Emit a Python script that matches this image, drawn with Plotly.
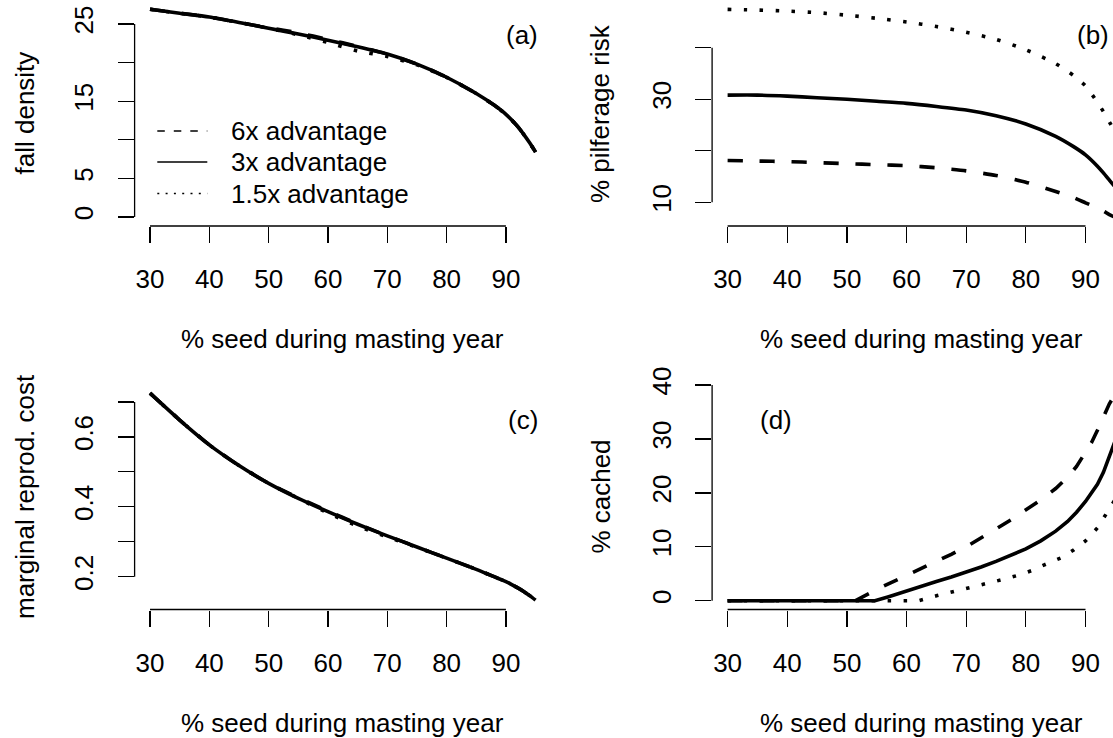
import plotly.graph_objects as go

W, H = 1113, 738
FONT = "Liberation Sans, Arial, Helvetica, sans-serif"
FS = 26

# ---- data -------------------------------------------------------------
seed_pct = [30, 35, 40, 45, 50, 55, 60, 65, 70, 75, 80, 85, 88, 90, 92, 93, 94, 95]

# (a) fall density
fall_6x = [26.9, 26.4, 25.9, 25.2, 24.5, 23.85, 23.0, 22.1, 21.1, 19.8, 18.1, 16.0, 14.5, 13.3, 11.7, 10.7, 9.6, 8.4]
fall_3x = [26.9, 26.4, 25.9, 25.2, 24.45, 23.7, 22.9, 22.05, 21.1, 19.8, 18.1, 16.0, 14.5, 13.3, 11.7, 10.7, 9.6, 8.4]
fall_15x = [26.9, 26.4, 25.9, 25.2, 24.45, 23.6, 22.6, 21.5, 20.8, 19.7, 18.1, 16.0, 14.5, 13.3, 11.7, 10.7, 9.6, 8.4]

# (b) % pilferage risk
pilf_6x = [18.1, 18.0, 17.9, 17.7, 17.5, 17.3, 17.1, 16.7, 16.1, 15.2, 13.9, 12.1, 10.9, 9.9, 8.9, 8.3, 7.6, 7.07]
pilf_3x = [30.8, 30.8, 30.6, 30.3, 30.0, 29.6, 29.2, 28.6, 27.9, 26.8, 25.2, 22.8, 20.8, 19.2, 17.0, 15.7, 14.3, 12.9]
pilf_15x = [47.44, 47.3, 47.1, 46.8, 46.3, 45.7, 45.0, 44.1, 43.0, 41.6, 39.6, 36.9, 34.6, 32.6, 29.4, 27.6, 25.6, 23.5]

# (c) marginal reproductive cost
cost_6x = [0.725, 0.648, 0.577, 0.518, 0.467, 0.426, 0.388, 0.351, 0.317, 0.285, 0.253, 0.221, 0.200, 0.186, 0.168, 0.158, 0.146, 0.133]
cost_3x = [0.725, 0.648, 0.577, 0.518, 0.467, 0.424, 0.386, 0.350, 0.317, 0.285, 0.253, 0.221, 0.200, 0.186, 0.168, 0.158, 0.146, 0.133]
cost_15x = [0.725, 0.648, 0.577, 0.518, 0.467, 0.424, 0.382, 0.345, 0.314, 0.284, 0.253, 0.221, 0.200, 0.186, 0.168, 0.158, 0.146, 0.133]

# (d) % cached (each series has its own break point)
cached_x_6x = [30, 51.4, 55, 57.5, 60, 62.5, 65, 67.5, 70, 72.5, 75, 77.5, 80, 82.5, 85, 87, 88.5, 90, 91, 92, 93, 94, 95]
cached_6x = [0, 0, 2.1, 3.4, 4.6, 5.9, 7.2, 8.6, 10.0, 11.6, 13.3, 15.0, 16.8, 18.7, 20.8, 22.9, 24.9, 27.4, 29.3, 31.6, 34.2, 36.5, 38.3]
cached_x_3x = [30, 54.7, 57, 60, 62.5, 65, 67.5, 70, 72.5, 75, 77.5, 80, 82.5, 85, 87, 88.5, 90, 91, 92, 93, 94, 95]
cached_3x = [0, 0, 0.75, 1.85, 2.7, 3.55, 4.4, 5.3, 6.25, 7.3, 8.4, 9.6, 11.1, 12.9, 14.7, 16.4, 18.4, 19.9, 21.6, 23.8, 26.8, 29.7]
cached_x_15x = [30, 62, 65, 68, 70, 73, 76, 79, 81, 83, 86, 88, 90, 92, 93.5, 95]
cached_15x = [0, 0, 0.9, 1.7, 2.2, 3.0, 3.9, 4.8, 5.6, 6.6, 8.0, 9.4, 11.1, 13.5, 16.2, 18.8]

x_ticks = [30, 40, 50, 60, 70, 80, 90]
series_names = ["6x advantage", "3x advantage", "1.5x advantage"]

# ---- styling ----------------------------------------------------------
LW = 3.6
STYLES = {
    "6x advantage": dict(color="black", width=LW, dash="15px,17px"),
    "3x advantage": dict(color="black", width=LW, dash="solid"),
    "1.5x advantage": dict(color="black", width=LW, dash="3.5px,12.5px"),
}


def fx(px):
    return px / W


def fy(py):
    return 1 - py / H


fig = go.Figure()


def add_series(xs, ys, name, xa, ya, shape="spline"):
    fig.add_trace(go.Scatter(
        x=xs, y=ys, mode="lines", name=name, showlegend=False,
        line=dict(shape=shape, smoothing=0.6, **STYLES[name]),
        xaxis=xa, yaxis=ya, hoverinfo="skip",
    ))


# draw order: dotted, dashed, solid on top
for nm, ys in (("1.5x advantage", fall_15x), ("6x advantage", fall_6x), ("3x advantage", fall_3x)):
    add_series(seed_pct, ys, nm, "x", "y")
for nm, ys in (("1.5x advantage", pilf_15x), ("6x advantage", pilf_6x), ("3x advantage", pilf_3x)):
    add_series(seed_pct, ys, nm, "x2", "y2")
for nm, ys in (("1.5x advantage", cost_15x), ("6x advantage", cost_6x), ("3x advantage", cost_3x)):
    add_series(seed_pct, ys, nm, "x3", "y3")
for nm, xs, ys in (("1.5x advantage", cached_x_15x, cached_15x),
                   ("6x advantage", cached_x_6x, cached_6x),
                   ("3x advantage", cached_x_3x, cached_3x)):
    add_series(xs, ys, nm, "x4", "y4", shape="linear")

tickfont = dict(family=FONT, size=FS, color="black")
common = dict(showgrid=False, zeroline=False, showline=False, ticks="outside",
              ticklen=16, tickwidth=1.3, tickcolor="black", tickfont=tickfont,
              automargin=False, fixedrange=True)


def xaxis(dom, rng, anchor):
    return dict(domain=dom, range=rng, anchor=anchor, tickmode="array",
                tickvals=x_ticks, ticktext=[str(v) for v in x_ticks],
                ticklabelstandoff=14, **common)


def yaxis(dom, rng, anchor, vals, texts):
    return dict(domain=dom, range=rng, anchor=anchor, tickmode="array",
                tickvals=vals, ticktext=texts, tickangle=-90,
                ticklabelstandoff=14, **common)


left_dom = [fx(134.6), fx(551.0)]
right_dom = [fx(712.1), 1.0]
top_dom = [fy(226.0), fy(1.0)]
bot_dom = [fy(609.5), fy(384.5)]

fig.update_layout(
    width=W, height=H,
    margin=dict(l=0, r=0, t=0, b=0),
    paper_bgcolor="white", plot_bgcolor="white",
    showlegend=False,
    font=dict(family=FONT, size=FS, color="black"),
    xaxis=xaxis(left_dom, [27.4, 97.6], "y"),
    yaxis=yaxis(top_dom, [-1.17, 27.98], "x",
                [0, 5, 10, 15, 20, 25], ["0", "5", "", "15", "", "25"]),
    xaxis2=xaxis(right_dom, [27.4, 94.61], "y2"),
    yaxis2=yaxis(top_dom, [5.40, 49.06], "x2",
                 [10, 20, 30, 40], ["10", "", "30", ""]),
    xaxis3=xaxis(left_dom, [27.4, 97.6], "y3"),
    yaxis3=yaxis(bot_dom, [0.1062, 0.7498], "x3",
                 [0.2, 0.3, 0.4, 0.5, 0.6, 0.7], ["0.2", "", "0.4", "", "0.6", ""]),
    xaxis4=xaxis(right_dom, [27.4, 94.61], "y4"),
    yaxis4=yaxis(bot_dom, [-1.63, 40.09], "x4",
                 [0, 10, 20, 30, 40], ["0", "10", "20", "30", "40"]),
)

# R-style axis lines spanning only the first to last tick
axis_spans = [
    ("x", "y", x_ticks[0], x_ticks[-1], 0, 25),
    ("x2", "y2", x_ticks[0], x_ticks[-1], 10, 40),
    ("x3", "y3", x_ticks[0], x_ticks[-1], 0.2, 0.7),
    ("x4", "y4", x_ticks[0], x_ticks[-1], 0, 40),
]
shapes = []
for xa, ya, x0, x1, y0, y1 in axis_spans:
    shapes.append(dict(type="line", xref=xa, yref=ya + " domain", x0=x0, x1=x1, y0=0, y1=0,
                       line=dict(color="black", width=1.3)))
    shapes.append(dict(type="line", xref=xa + " domain", yref=ya, x0=0, x1=0, y0=y0, y1=y1,
                       line=dict(color="black", width=1.3)))

# legend key inside panel (a)
legend_rows = [131.0, 162.0, 193.5]
legend_dash = {"6x advantage": "7.5px,9px", "3x advantage": "solid", "1.5x advantage": "2px,6.3px"}
annotations = []
for nm, row in zip(series_names, legend_rows):
    shapes.append(dict(type="line", xref="paper", yref="paper",
                       x0=fx(157.3), x1=fx(207.3), y0=fy(row), y1=fy(row),
                       line=dict(color="black", width=1.7, dash=legend_dash[nm])))
    annotations.append(dict(text=nm, xref="paper", yref="paper", x=fx(229), y=fy(row),
                            xanchor="left", yanchor="middle", showarrow=False,
                            font=dict(family=FONT, size=FS, color="black")))

xtitle = "% seed during masting year"
text_items = [
    (xtitle, 342.8, 339.3, 0),
    (xtitle, 921.3, 339.3, 0),
    (xtitle, 342.8, 723.3, 0),
    (xtitle, 921.3, 723.3, 0),
    ("fall density", 25, 113.5, -90),
    ("% pilferage risk", 600.6, 113.5, -90),
    ("marginal reprod. cost", 25, 497, -90),
    ("% cached", 600.6, 497, -90),
    ("(a)", 522, 35, 0),
    ("(b)", 1093, 35, 0),
    ("(c)", 523, 420, 0),
    ("(d)", 776, 420, 0),
]
for txt, px, py, ang in text_items:
    annotations.append(dict(text=txt, xref="paper", yref="paper", x=fx(px), y=fy(py),
                            xanchor="center", yanchor="middle", textangle=ang,
                            showarrow=False,
                            font=dict(family=FONT, size=FS, color="black")))

fig.update_layout(shapes=shapes, annotations=annotations)

fig.write_html("out.html", config={"displayModeBar": False, "staticPlot": True})
